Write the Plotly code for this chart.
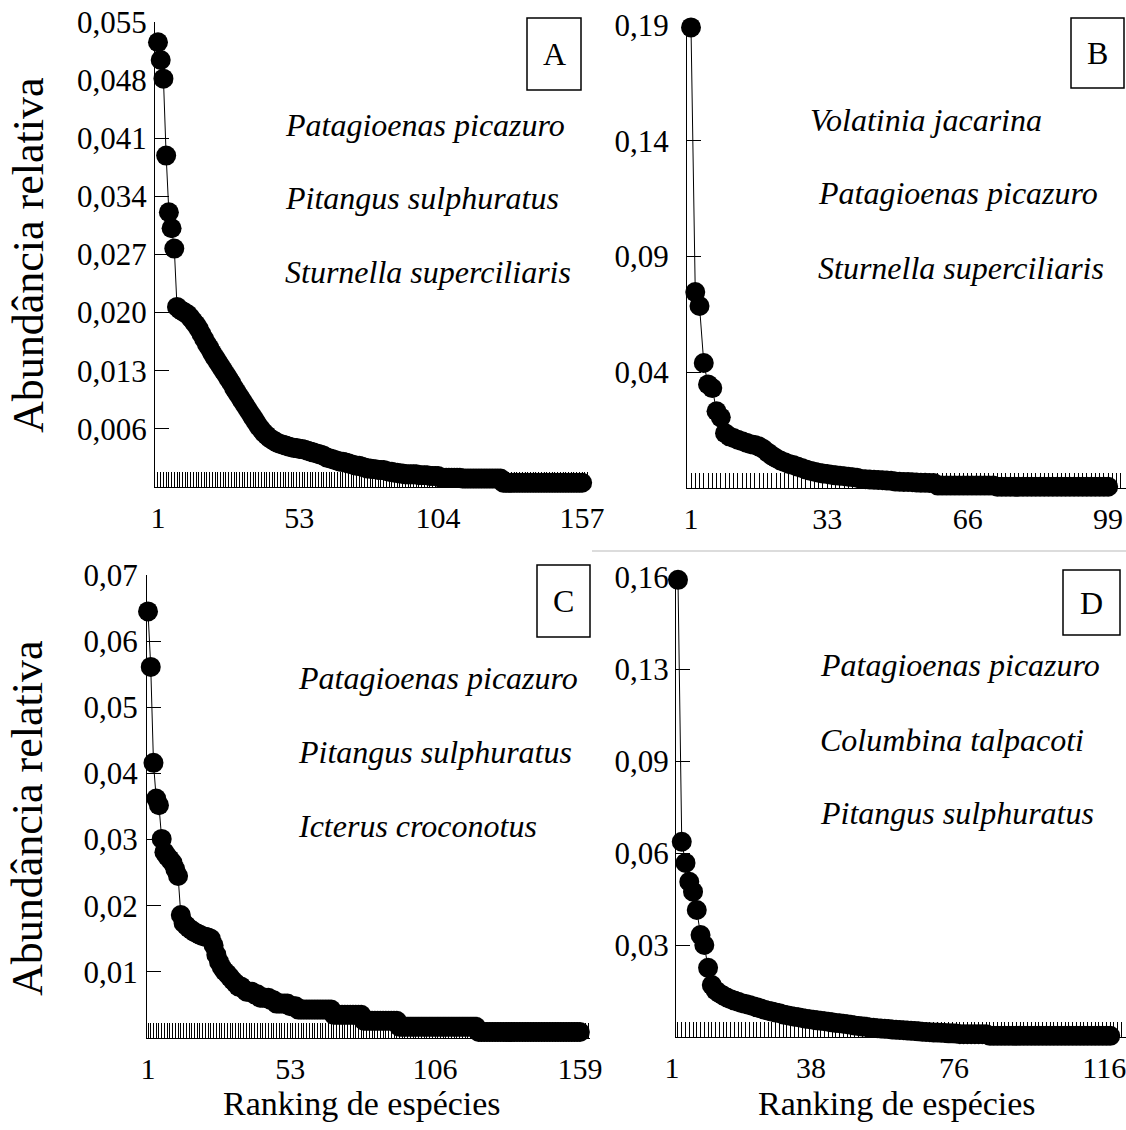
import plotly.graph_objects as go

# ---------------- DATA ----------------
abund_A = [
    0.0526, 0.0505, 0.0483, 0.0392, 0.0325, 0.0306, 0.0282, 0.0213, 0.0210, 0.0208,
    0.0206, 0.0204, 0.0200, 0.0196, 0.0192, 0.0187, 0.0181, 0.0175, 0.0169, 0.0164,
    0.0158, 0.0153, 0.0148, 0.0143, 0.0138, 0.0133, 0.0128, 0.0123, 0.0117, 0.0112,
    0.0107, 0.0102, 0.0097, 0.0092, 0.0087, 0.0082, 0.0077, 0.0072, 0.0068, 0.0064,
    0.0061, 0.0058, 0.0056, 0.0054, 0.0052, 0.0051, 0.0050, 0.0049, 0.0048, 0.0047,
    0.0046, 0.0046, 0.0045, 0.0045, 0.0044, 0.0043, 0.0042, 0.0041, 0.0040, 0.0039,
    0.0038, 0.0037, 0.0035, 0.0034, 0.0033, 0.0032, 0.0031, 0.0030, 0.0030, 0.0029,
    0.0028, 0.0027, 0.0026, 0.0025, 0.0025, 0.0024, 0.0023, 0.0022, 0.0022, 0.0021,
    0.0021, 0.0020, 0.0020, 0.0020, 0.0019, 0.0018, 0.0018, 0.0017, 0.0017, 0.0016,
    0.0016, 0.0015, 0.0015, 0.0015, 0.0015, 0.0015, 0.0014, 0.0014, 0.0014, 0.0014,
    0.0013, 0.0013, 0.0013, 0.0013, 0.0011, 0.0011, 0.0011, 0.0011, 0.0011, 0.0011,
    0.0011, 0.0011, 0.0010, 0.0010, 0.0010, 0.0010, 0.0010, 0.0010, 0.0010, 0.0010,
    0.0010, 0.0010, 0.0010, 0.0010, 0.0010, 0.0010, 0.0010,
    0.0005, 0.0005, 0.0005, 0.0005, 0.0005, 0.0005, 0.0005, 0.0005, 0.0005, 0.0005,
    0.0005, 0.0005, 0.0005, 0.0005, 0.0005, 0.0005, 0.0005, 0.0005, 0.0005, 0.0005,
    0.0005, 0.0005, 0.0005, 0.0005, 0.0005, 0.0005, 0.0005, 0.0005, 0.0005, 0.0005,
]

abund_B = [
    0.189, 0.0804, 0.0747, 0.0513, 0.0425, 0.0410, 0.0315, 0.0290, 0.0225, 0.0212,
    0.0205, 0.0198, 0.0192, 0.0186, 0.0180, 0.0176, 0.0170, 0.0160, 0.0146, 0.0133,
    0.0122, 0.0113, 0.0106, 0.0099, 0.0094, 0.0088, 0.0082, 0.0076, 0.0071, 0.0067,
    0.0063, 0.0060, 0.0057, 0.0054, 0.0052, 0.0050, 0.0048, 0.0046, 0.0044, 0.0042,
    0.0037, 0.0036, 0.0035, 0.0034, 0.0033, 0.0032, 0.0031, 0.0030, 0.0027, 0.0026,
    0.0025, 0.0025, 0.0024, 0.0023, 0.0022, 0.0022, 0.0021, 0.0021, 0.0010, 0.0010,
    0.0010, 0.0010, 0.0010, 0.0010, 0.0010, 0.0010, 0.0010, 0.0010, 0.0010, 0.0010,
    0.0010, 0.0010,
    0.0005, 0.0005, 0.0005, 0.0005, 0.0005, 0.0005, 0.0005, 0.0005, 0.0005, 0.0005,
    0.0005, 0.0005, 0.0005, 0.0005, 0.0005, 0.0005, 0.0005, 0.0005, 0.0005, 0.0005,
    0.0005, 0.0005, 0.0005, 0.0005, 0.0005, 0.0005, 0.0005,
]

abund_C = [
    0.0645, 0.0561, 0.0416, 0.0362, 0.0352, 0.0301, 0.0281, 0.0275, 0.0270, 0.0265,
    0.0255, 0.0245, 0.0186, 0.0174, 0.0170, 0.0166, 0.0163, 0.0160, 0.0158, 0.0156,
    0.0154, 0.0153, 0.0152, 0.0150, 0.0140, 0.0126, 0.0115, 0.0107, 0.0101, 0.0097,
    0.0092, 0.0087, 0.0083, 0.0078, 0.0078, 0.0074, 0.0070, 0.0070, 0.0070, 0.0066,
    0.0066, 0.0061, 0.0061, 0.0061, 0.0061, 0.0057, 0.0057, 0.0052, 0.0052, 0.0052,
    0.0052, 0.0052, 0.0048, 0.0048, 0.0048,
    0.0043, 0.0043, 0.0043, 0.0043, 0.0043, 0.0043, 0.0043, 0.0043, 0.0043, 0.0043,
    0.0043, 0.0043, 0.0043,
    0.0035, 0.0035, 0.0035, 0.0035, 0.0035, 0.0035, 0.0035, 0.0035, 0.0035, 0.0035,
    0.0035,
    0.0026, 0.0026, 0.0026, 0.0026, 0.0026, 0.0026, 0.0026, 0.0026, 0.0026, 0.0026,
    0.0026, 0.0026, 0.0026,
    0.0017, 0.0017, 0.0017, 0.0017, 0.0017, 0.0017, 0.0017, 0.0017, 0.0017, 0.0017,
    0.0017, 0.0017, 0.0017, 0.0017, 0.0017, 0.0017, 0.0017, 0.0017, 0.0017, 0.0017,
    0.0017, 0.0017, 0.0017, 0.0017, 0.0017, 0.0017, 0.0017, 0.0017, 0.0017,
    0.0009, 0.0009, 0.0009, 0.0009, 0.0009, 0.0009, 0.0009, 0.0009, 0.0009, 0.0009,
    0.0009, 0.0009, 0.0009, 0.0009, 0.0009, 0.0009, 0.0009, 0.0009, 0.0009, 0.0009,
    0.0009, 0.0009, 0.0009, 0.0009, 0.0009, 0.0009, 0.0009, 0.0009, 0.0009, 0.0009,
    0.0009, 0.0009, 0.0009, 0.0009, 0.0009, 0.0009, 0.0009, 0.0009,
]

abund_D = [
    0.162, 0.0692, 0.0617, 0.0550, 0.0515, 0.0450, 0.0361, 0.0326, 0.0245, 0.0184,
    0.0165, 0.0155, 0.0147, 0.0140, 0.0134, 0.0129, 0.0125, 0.0120, 0.0117, 0.0113,
    0.0109, 0.0105, 0.0101, 0.0097, 0.0093, 0.0090, 0.0087, 0.0084, 0.0080, 0.0077,
    0.0074, 0.0072, 0.0070, 0.0067, 0.0065, 0.0063, 0.0061, 0.0059, 0.0058, 0.0056,
    0.0054, 0.0052, 0.0050, 0.0049, 0.0047, 0.0045, 0.0043, 0.0041, 0.0039, 0.0037,
    0.0036, 0.0034, 0.0033, 0.0031, 0.0030, 0.0029, 0.0028, 0.0027, 0.0026, 0.0025,
    0.0024, 0.0023, 0.0022, 0.0021, 0.0020, 0.0019, 0.0018, 0.0017, 0.0016, 0.0016,
    0.0015, 0.0014, 0.0013, 0.0013, 0.0012,
    0.0010, 0.0010, 0.0010, 0.0010, 0.0010, 0.0010, 0.0010, 0.0010,
    0.0004, 0.0004, 0.0004, 0.0004, 0.0004, 0.0004, 0.0004, 0.0004, 0.0004, 0.0004,
    0.0004, 0.0004, 0.0004, 0.0004, 0.0004, 0.0004, 0.0004, 0.0004, 0.0004, 0.0004,
    0.0004, 0.0004, 0.0004, 0.0004, 0.0004, 0.0004, 0.0004, 0.0004, 0.0004, 0.0004,
    0.0004, 0.0004, 0.0004,
]

# y-axis maxima and tick labels (ticks evenly divide the axis; labels as printed)
ymax_A = 0.055
ytext_A = ["0,006", "0,013", "0,020", "0,027", "0,034", "0,041", "0,048", "0,055"]
ymax_B = 0.19
ytext_B = ["0,04", "0,09", "0,14", "0,19"]
ymax_C = 0.07
ytext_C = ["0,01", "0,02", "0,03", "0,04", "0,05", "0,06", "0,07"]
ymax_D = 0.163
ytext_D = ["0,03", "0,06", "0,09", "0,13", "0,16"]

# x-axis tick labels (species ranks)
xticks_A = [1, 53, 104, 157]
xticks_B = [1, 33, 66, 99]
xticks_C = [1, 53, 106, 159]
xticks_D = [1, 38, 76, 116]

letters = ["A", "B", "C", "D"]
species_A = ["Patagioenas picazuro", "Pitangus sulphuratus", "Sturnella superciliaris"]
species_B = ["Volatinia jacarina", "Patagioenas picazuro", "Sturnella superciliaris"]
species_C = ["Patagioenas picazuro", "Pitangus sulphuratus", "Icterus croconotus"]
species_D = ["Patagioenas picazuro", "Columbina talpacoti", "Pitangus sulphuratus"]

ytitle = "Abundância relativa"
xtitle = "Ranking de espécies"

# ---------------- LAYOUT ----------------
W, H = 1126, 1130
FONT = "Liberation Serif"


def px(x):
    return x / W


def py(y):
    return 1 - y / H


panels = [
    dict(data=abund_A, ymax=ymax_A, ytext=ytext_A, xt=xticks_A, species=species_A,
         dom_x=(155, 590), dom_y=(22, 487), xr=(-0.1, 159.9), shift=0, ystand=1,
         box=(527, 581, 18, 90), sp_x=(283, 283, 283), sp_y=(125, 198, 272)),
    dict(data=abund_B, ymax=ymax_B, ytext=ytext_B, xt=xticks_B, species=species_B,
         dom_x=(687, 1126), dom_y=(25, 488), xr=(0.06, 103.2), shift=0, ystand=11,
         box=(1071, 1124, 18, 88), sp_x=(808, 816, 816), sp_y=(120, 193, 268)),
    dict(data=abund_C, ymax=ymax_C, ytext=ytext_C, xt=xticks_C, species=species_C,
         dom_x=(147, 590), dom_y=(575, 1038), xr=(0.63, 162.7), shift=0, ystand=2,
         box=(537, 590, 565, 637), sp_x=(296, 296, 296), sp_y=(678, 752, 826)),
    dict(data=abund_D, ymax=ymax_D, ytext=ytext_D, xt=xticks_D, species=species_D,
         dom_x=(676, 1126), dom_y=(577, 1037), xr=(0.47, 120.2), shift=-6, ystand=0,
         box=(1063, 1120, 570, 635), sp_x=(818, 818, 818), sp_y=(665, 740, 813)),
]

fig = go.Figure()
annotations = []
shapes = []
layout = {}

for i, p in enumerate(panels):
    n = i + 1
    xa = "x" if n == 1 else f"x{n}"
    ya = "y" if n == 1 else f"y{n}"
    ranks = list(range(1, len(p["data"]) + 1))
    fig.add_trace(go.Scatter(
        x=ranks, y=p["data"], xaxis=xa, yaxis=ya, mode="lines+markers",
        line=dict(color="black", width=1),
        marker=dict(color="black", size=20),
        cliponaxis=False, hoverinfo="skip",
    ))
    k = len(p["ytext"])
    yvals = [p["ymax"] * (j + 1) / k for j in range(k)]
    layout["xaxis" if n == 1 else f"xaxis{n}"] = dict(
        domain=[px(p["dom_x"][0]), px(p["dom_x"][1])], range=list(p["xr"]),
        anchor=ya, showline=True, linecolor="black", linewidth=1.2,
        showgrid=False, zeroline=False, automargin=False,
        tickmode="array", tickvals=p["xt"], ticktext=[str(v) for v in p["xt"]],
        ticks="inside", ticklen=15, tickwidth=1, tickcolor="black",
        ticklabelstandoff=4, ticklabelshift=p["shift"], ticklabeloverflow="allow",
        tickfont=dict(family=FONT, size=30, color="black"),
        minor=dict(tickmode="linear", tick0=0, dtick=1, ticks="inside",
                   ticklen=15, tickwidth=1, tickcolor="black", showgrid=False),
    )
    layout["yaxis" if n == 1 else f"yaxis{n}"] = dict(
        domain=[py(p["dom_y"][1]), py(p["dom_y"][0])], range=[0, p["ymax"]],
        anchor=xa, showline=True, linecolor="black", linewidth=1.2,
        showgrid=False, zeroline=False, automargin=False,
        tickmode="array", tickvals=yvals, ticktext=p["ytext"],
        ticks="inside", ticklen=14, tickwidth=1, tickcolor="black",
        ticklabelstandoff=p["ystand"],
        tickfont=dict(family=FONT, size=31, color="black"),
    )
    # letter box
    x0, x1, y0, y1 = p["box"]
    shapes.append(dict(type="rect", xref="paper", yref="paper",
                       x0=px(x0), x1=px(x1), y0=py(y1), y1=py(y0),
                       line=dict(color="black", width=1.5), fillcolor="white"))
    annotations.append(dict(xref="paper", yref="paper", x=px((x0 + x1) / 2),
                            y=py((y0 + y1) / 2), text=letters[i], showarrow=False,
                            font=dict(family=FONT, size=32, color="black"),
                            xanchor="center", yanchor="middle"))
    # species names
    for j, name in enumerate(p["species"]):
        annotations.append(dict(xref="paper", yref="paper", x=px(p["sp_x"][j]),
                                y=py(p["sp_y"][j]), text=f"<i>{name}</i>",
                                showarrow=False, xanchor="left", yanchor="middle",
                                font=dict(family=FONT, size=32, color="black")))

# axis titles
for yc in (255, 818):
    annotations.append(dict(xref="paper", yref="paper", x=px(28), y=py(yc),
                            text=ytitle, textangle=-90, showarrow=False,
                            xanchor="center", yanchor="middle",
                            font=dict(family=FONT, size=44, color="black")))
for xc in (362, 897):
    annotations.append(dict(xref="paper", yref="paper", x=px(xc), y=py(1103),
                            text=xtitle, showarrow=False,
                            xanchor="center", yanchor="middle",
                            font=dict(family=FONT, size=34, color="black")))

# faint separator above panel D
shapes.append(dict(type="line", xref="paper", yref="paper",
                   x0=px(592), x1=px(1126), y0=py(551), y1=py(551),
                   line=dict(color="#d0d0d0", width=1.5)))

fig.update_layout(
    width=W, height=H, margin=dict(l=0, r=0, t=0, b=0),
    paper_bgcolor="white", plot_bgcolor="white", showlegend=False,
    annotations=annotations, shapes=shapes, **layout,
)

fig.write_html("out.html", config={"displayModeBar": False},
               post_script="document.body.style.margin='0px';"
                           "document.body.style.overflow='hidden';")
